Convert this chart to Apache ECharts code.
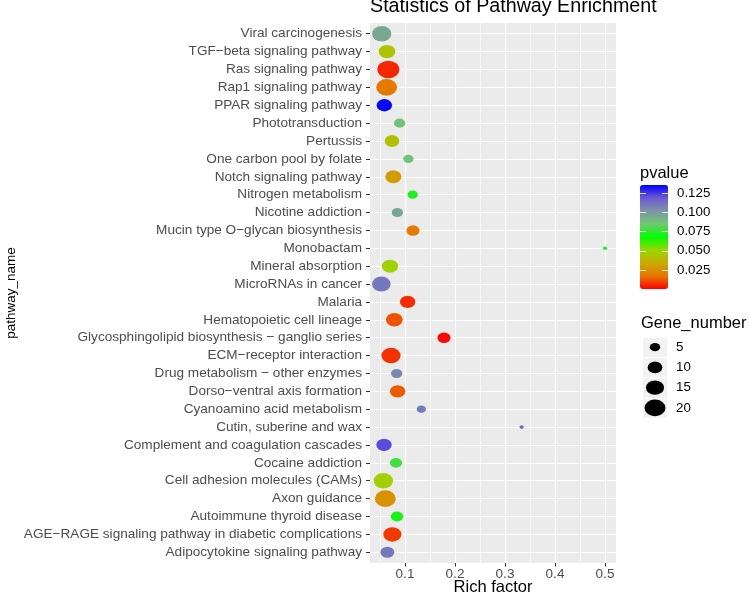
<!DOCTYPE html>
<html><head><meta charset="utf-8">
<script src="https://cdn.jsdelivr.net/npm/echarts@6/dist/echarts.min.js"></script>
<style>html,body{margin:0;padding:0;background:#fff}#c{width:749px;height:593px}</style>
</head><body><div id="c"></div>
<script>
// ---- data (top-to-bottom order as drawn) ----
const pathways = [
  "Viral carcinogenesis",
  "TGF\u2212beta signaling pathway",
  "Ras signaling pathway",
  "Rap1 signaling pathway",
  "PPAR signaling pathway",
  "Phototransduction",
  "Pertussis",
  "One carbon pool by folate",
  "Notch signaling pathway",
  "Nitrogen metabolism",
  "Nicotine addiction",
  "Mucin type O\u2212glycan biosynthesis",
  "Monobactam",
  "Mineral absorption",
  "MicroRNAs in cancer",
  "Malaria",
  "Hematopoietic cell lineage",
  "Glycosphingolipid biosynthesis \u2212 ganglio series",
  "ECM\u2212receptor interaction",
  "Drug metabolism \u2212 other enzymes",
  "Dorso\u2212ventral axis formation",
  "Cyanoamino acid metabolism",
  "Cutin, suberine and wax",
  "Complement and coagulation cascades",
  "Cocaine addiction",
  "Cell adhesion molecules (CAMs)",
  "Axon guidance",
  "Autoimmune thyroid disease",
  "AGE\u2212RAGE signaling pathway in diabetic complications",
  "Adipocytokine signaling pathway"
];
const richFactor = [0.0534, 0.064, 0.0667, 0.0633, 0.0587, 0.0893, 0.074, 0.1067, 0.0767, 0.1153,
                    0.0847, 0.116, 0.5, 0.07, 0.0527, 0.1053, 0.0787, 0.178, 0.072, 0.0833,
                    0.0853, 0.1327, 0.3333, 0.058, 0.082, 0.0567, 0.0607, 0.084, 0.0747, 0.0647];
const geneNumber = [17, 13, 22, 20, 11, 6, 10, 5, 12, 5,
                    6, 8, 1, 12, 16, 11, 13, 8, 17, 6,
                    11, 4, 1, 11, 7, 17, 20, 7, 15, 9];
const pValue = [0.095, 0.044, 0.0055, 0.018, 0.135, 0.087, 0.042, 0.087, 0.029, 0.073,
                0.096, 0.019, 0.075, 0.049, 0.110, 0.006, 0.012, 0.001, 0.007, 0.105,
                0.013, 0.109, 0.114, 0.122, 0.078, 0.048, 0.026, 0.071, 0.008, 0.110];
const xTicks = [0.1, 0.2, 0.3, 0.4, 0.5];
const xMinorTicks = [0.05, 0.15, 0.25, 0.35, 0.45];
const pTicks = [0.025, 0.05, 0.075, 0.1, 0.125];
const sizeBreaks = [5, 10, 15, 20];

// ---- styling helpers ----
const FONT = '"Liberation Sans", Arial, Helvetica, sans-serif';
const rampColors = ['#FF0000', '#E87600', '#C9AB00', '#98D700', '#00FF00',
                    '#6FC972', '#7D93A6', '#6C5BD3', '#0000FF'];
function dotSize(n) { const w = -0.3 + 4.75 * Math.sqrt(n); return [w, w * 0.8]; }

const points = pathways.map((name, i) => [richFactor[i], i, pValue[i], geneNumber[i], name]);
const yIdx = pathways.map((_, i) => i);
const legendPts = sizeBreaks.map(n => [0, String(n), n]);

const chart = echarts.init(document.getElementById('c'), null, {renderer: 'canvas'});
chart.setOption({
  animation: false,
  backgroundColor: '#fff',
  textStyle: {fontFamily: FONT},
  title: [
    {text: 'Statistics of Pathway Enrichment', left: 370, top: -3, padding: 0,
     textStyle: {fontFamily: FONT, fontSize: 19.7, fontWeight: 'normal', color: '#000'}},
    {text: 'pvalue', left: 640, top: 165, padding: 0,
     textStyle: {fontFamily: FONT, fontSize: 16.5, fontWeight: 'normal', color: '#000'}},
    {text: 'Gene_number', left: 641, top: 315, padding: 0,
     textStyle: {fontFamily: FONT, fontSize: 16.5, fontWeight: 'normal', color: '#000'}}
  ],
  grid: [
    {left: 370, top: 23, width: 246, height: 540, show: true, backgroundColor: '#EBEBEB', borderWidth: 0,
     outerBoundsMode: 'none', containLabel: false},
    {left: 640, top: 185, width: 28, height: 104, show: false, outerBoundsMode: 'none'},
    {left: 643, top: 337, width: 24, height: 81, show: true, backgroundColor: '#F2F2F2', borderWidth: 0,
     outerBoundsMode: 'none'}
  ],
  xAxis: [
    {gridIndex: 0, type: 'value', min: 0.03, max: 0.522, position: 'bottom',
     name: 'Rich factor', nameLocation: 'middle', nameGap: 16, nameMoveOverlap: false,
     nameTextStyle: {fontFamily: FONT, fontSize: 16.5, color: '#000'},
     axisLine: {show: false, onZero: false},
     axisTick: {show: true, length: 3.5, lineStyle: {color: '#333', width: 1}, customValues: xTicks},
     axisLabel: {customValues: xTicks, formatter: v => String(+(+v).toFixed(1)), margin: 4,
                 color: '#4D4D4D', fontSize: 13.5, fontFamily: FONT},
     splitLine: {show: true, lineStyle: {color: '#FFFFFF', width: 1.2}}},
    {gridIndex: 0, type: 'value', min: 0.03, max: 0.522, position: 'top',
     axisLine: {show: false, onZero: false}, axisTick: {show: false, customValues: xMinorTicks},
     axisLabel: {show: false},
     splitLine: {show: true, lineStyle: {color: '#FFFFFF', width: 0.6}}},
    {gridIndex: 1, type: 'value', show: false, axisLine: {onZero: false}},
    {gridIndex: 2, type: 'value', min: -1, max: 1, show: false, axisLine: {onZero: false}}
  ],
  yAxis: [
    {gridIndex: 0, type: 'value', min: -0.6, max: pathways.length - 0.4, inverse: true, position: 'left',
     name: 'pathway_name', nameLocation: 'middle', nameGap: 352, nameRotate: 90, nameMoveOverlap: false,
     nameTextStyle: {fontFamily: FONT, fontSize: 13.5, color: '#000'},
     axisLine: {show: false, onZero: false},
     axisTick: {show: true, length: 4, lineStyle: {color: '#333', width: 1}, customValues: yIdx},
     axisLabel: {customValues: yIdx, formatter: v => pathways[Math.round(v)] || '', margin: 8,
                 color: '#4D4D4D', fontSize: 13.6, fontFamily: FONT},
     splitLine: {show: true, lineStyle: {color: '#FFFFFF', width: 1.2}}},
    {gridIndex: 1, type: 'value', min: 0, max: 0.136, position: 'right', z: 10,
     axisLine: {show: false, onZero: false},
     axisTick: {show: true, inside: true, length: 6, lineStyle: {color: 'rgba(255,255,255,0.8)', width: 1}, customValues: pTicks},
     axisLabel: {customValues: pTicks, formatter: v => (+v).toFixed(3), margin: 9,
                 color: '#000', fontSize: 13.3, fontFamily: FONT},
     splitLine: {show: false}},
    {gridIndex: 1, type: 'value', min: 0, max: 0.136, position: 'left', z: 10,
     axisLine: {show: false, onZero: false},
     axisTick: {show: true, inside: true, length: 6, lineStyle: {color: 'rgba(255,255,255,0.8)', width: 1}, customValues: pTicks},
     axisLabel: {show: false}, splitLine: {show: false}},
    {gridIndex: 2, type: 'category', data: sizeBreaks.map(String), inverse: true, position: 'right',
     axisLine: {show: false, onZero: false}, axisTick: {show: false},
     axisLabel: {margin: 9, color: '#000', fontSize: 13.3, fontFamily: FONT},
     splitLine: {show: true, lineStyle: {color: '#FFFFFF', width: 1}}}
  ],
  visualMap: [{
    type: 'continuous', seriesIndex: 0, dimension: 2, min: 0, max: 0.136,
    inRange: {color: rampColors}, show: true, calculable: false, hoverLink: false,
    left: 640, top: 185, itemWidth: 28, itemHeight: 104, padding: 0, text: null
  }],
  series: [
    {type: 'scatter', xAxisIndex: 0, yAxisIndex: 0, data: points,
     encode: {x: 0, y: 1}, symbolSize: v => dotSize(v[3]),
     itemStyle: {opacity: 1}, z: 3, silent: true},
    {type: 'scatter', xAxisIndex: 3, yAxisIndex: 3, data: legendPts,
     encode: {x: 0, y: 1}, symbolSize: v => dotSize(v[2]),
     itemStyle: {color: '#000', opacity: 1}, silent: true}
  ]
});
</script></body></html>
